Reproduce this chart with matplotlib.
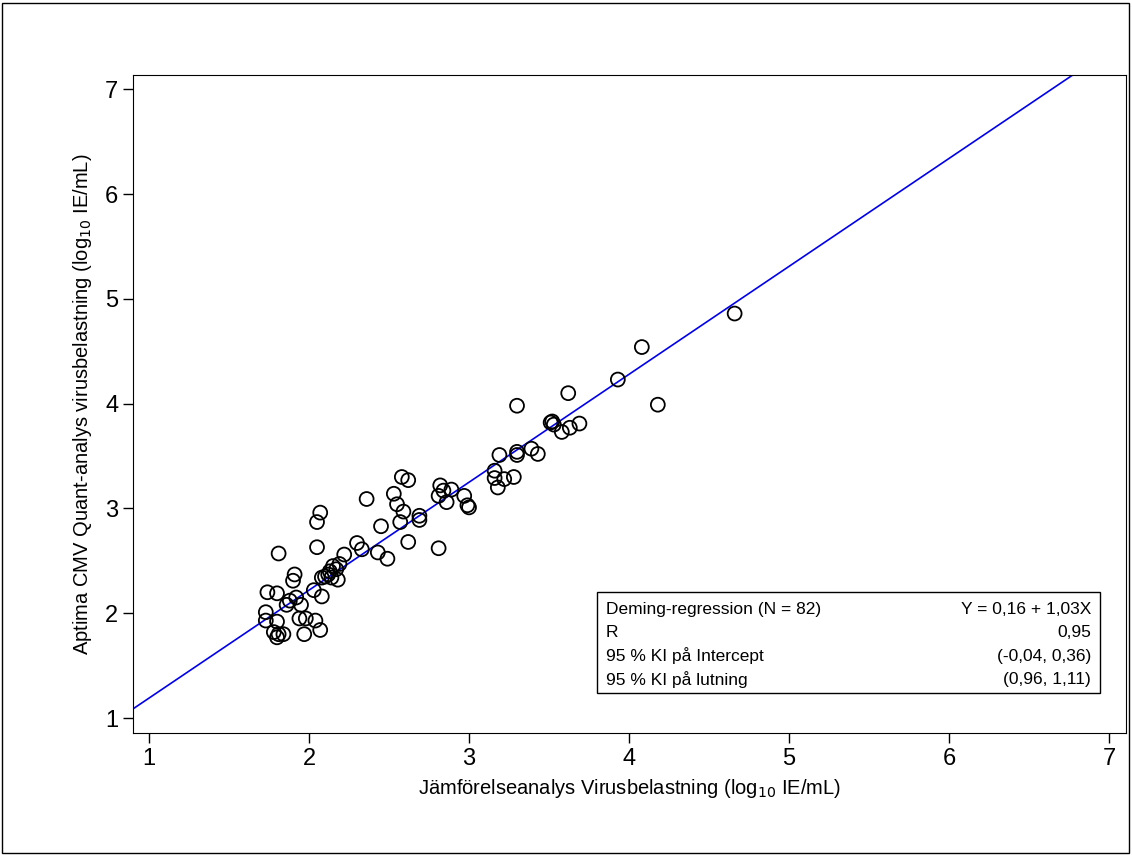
import matplotlib
matplotlib.use("Agg")
import matplotlib.pyplot as plt
import numpy as np
from matplotlib.patches import Rectangle

plt.rcParams['font.family'] = ['Arial', 'Liberation Sans', 'DejaVu Sans']

x = [1.73,1.73,1.74,1.78,1.80,1.80,1.81,1.81,1.80,1.84,1.86,1.88,1.90,1.91,1.92,1.94,1.95,1.97,1.98,2.03,
     2.04,2.05,2.05,2.07,2.07,2.08,2.08,2.10,2.12,2.13,2.14,2.15,2.17,2.18,2.19,2.22,2.30,2.33,2.36,2.43,
     2.45,2.49,2.53,2.55,2.57,2.58,2.59,2.62,2.62,2.69,2.69,2.81,2.82,2.81,2.84,2.86,2.89,2.97,2.99,3.00,
     3.16,3.16,3.18,3.19,3.22,3.28,3.30,3.30,3.30,3.39,3.43,3.51,3.52,3.53,3.58,3.62,3.63,3.69,3.93,4.08,
     4.18,4.66]
y = [2.01,1.93,2.20,1.82,2.19,1.77,1.80,2.57,1.92,1.80,2.08,2.12,2.31,2.37,2.15,1.95,2.08,1.80,1.95,2.22,
     1.93,2.63,2.87,2.96,1.84,2.16,2.34,2.35,2.37,2.40,2.34,2.45,2.42,2.32,2.47,2.56,2.67,2.61,3.09,2.58,
     2.83,2.52,3.14,3.04,2.87,3.30,2.97,3.27,2.68,2.93,2.89,3.12,3.22,2.62,3.17,3.06,3.18,3.12,3.03,3.01,
     3.29,3.36,3.20,3.51,3.28,3.30,3.51,3.54,3.98,3.57,3.52,3.82,3.83,3.80,3.73,4.10,3.77,3.81,4.23,4.54,
     3.99,4.86]
intercept, slope = 0.16, 1.03
ticks = [1, 2, 3, 4, 5, 6, 7]
legend_rows = [("Deming-regression (N = 82)", "Y = 0,16 + 1,03X"),
               ("R", "0,95"),
               ("95 % KI på Intercept", "(-0,04, 0,36)"),
               ("95 % KI på lutning", "(0,96, 1,11)")]

fig = plt.figure(figsize=(11.32, 8.55), dpi=100)
fig.patches.append(Rectangle((0.002, 0.002), 0.995, 0.995, transform=fig.transFigure,
                             fill=False, edgecolor='black', lw=1))
ax = fig.add_axes([0.1175, 0.1427, 0.8772, 0.7693])
ax.set_xlim(0.9, 7.106)
ax.set_ylim(0.857, 7.134)
xl = np.array([0.9, 7.106])
ax.plot(xl, intercept + slope * xl, color='#0000ee', lw=1.2, zorder=2)
ax.scatter(x, y, s=100, facecolors='none', edgecolors='black', linewidths=1.3, zorder=3)
ax.set_xticks(ticks)
ax.set_yticks(ticks)
ax.tick_params(labelsize=17, length=7, width=1)
ax.set_xlabel(r"Jämförelseanalys Virusbelastning (log$_{10}$ IE/mL)", fontsize=14.5, labelpad=5)
ax.set_ylabel(r"Aptima CMV Quant-analys virusbelastning (log$_{10}$ IE/mL)", fontsize=14.5, labelpad=8)

def fx(px): return px / 1132
def fy(py): return 1 - py / 855
fig.patches.append(Rectangle((fx(597), fy(693)), fx(1100) - fx(597), fy(592) - fy(693),
                             transform=fig.transFigure, fill=True, facecolor='white',
                             edgecolor='black', lw=1, zorder=5))
for i, (l, r) in enumerate(legend_rows):
    yy = fy(609 + i * 23.5)
    fig.text(fx(606), yy, l, fontsize=12.5, va='center', ha='left', zorder=6)
    fig.text(fx(1091), yy, r, fontsize=12.5, va='center', ha='right', zorder=6)

fig.savefig("out.png", dpi=100)
